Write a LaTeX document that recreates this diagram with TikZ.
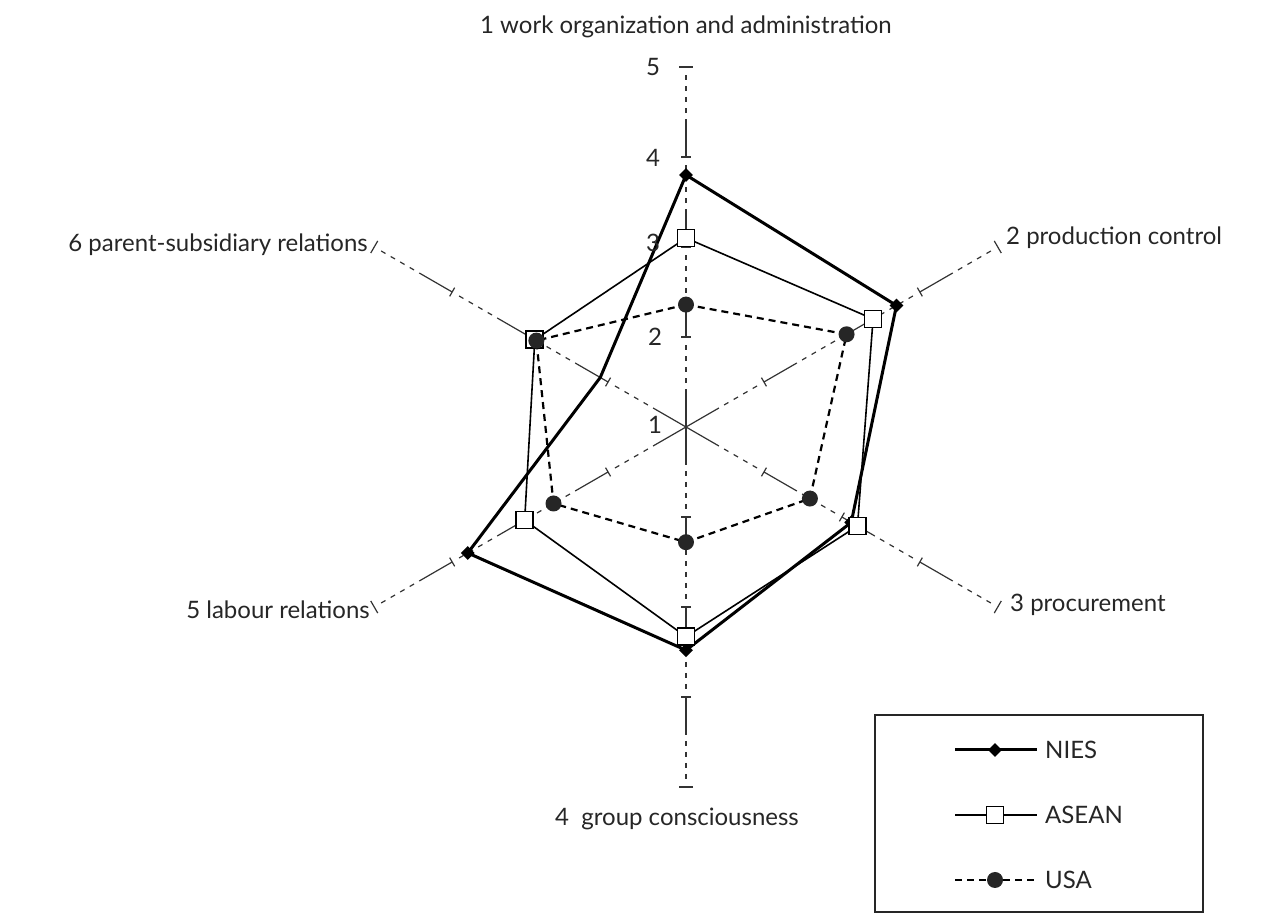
\documentclass[tikz,border=0pt]{standalone}
\usepackage{fontspec}
\setmainfont{Lato}
\usetikzlibrary{shapes.geometric}

\begin{document}
\begin{tikzpicture}[x=1pt,y=1pt,
  every node/.style={font=\fontsize{24}{28}\selectfont, text=black!85},
  axisline/.style={line width=1.2pt, black!80,
    dash pattern=on 38pt off 6pt on 5pt off 6pt on 5pt off 6pt on 5pt off 6pt on 5pt off 8pt},
  tickmark/.style={line width=1.2pt, black!80},
  niesline/.style={line width=3pt, line join=round, black},
  aseanline/.style={line width=1.6pt, line join=round, black},
  usaline/.style={line width=2.2pt, line join=round, black, dash pattern=on 7pt off 5pt},
  niesmark/.style={diamond, fill=black, inner sep=0pt, minimum size=14pt},
  aseanmark/.style={rectangle, draw=black, fill=white, line width=1.6pt, inner sep=0pt, minimum size=17pt},
  usamark/.style={circle, fill=black!85, inner sep=0pt, minimum size=16pt},
  leglabel/.style={anchor=west, inner sep=0pt}
]
\useasboundingbox (0,0) rectangle (1272,915);

\begin{scope}[shift={(686,488)}]
  \coordinate (c) at (0,0);
  % axes: one dash-dot segment per unit, ticks at 2, 3, 4 and a bar at 5
  \foreach \a/\n in {90/1,30/2,-30/3,-90/4,-150/5,150/6} {
    \coordinate (end\n) at (\a:360);
    \foreach \k in {1,2,3,4}
      \draw[axisline] (\a:{(\k-1)*90}) -- (\a:{\k*90});
    \foreach \k in {1,2,3}
      \draw[tickmark] (\a:{\k*90}) ++(\a+90:5) -- ++(\a-90:10);
    \draw[tickmark] (end\n) ++(\a+90:7) -- ++(\a-90:14);
  }

  % data points, radius = (value - 1) * 90
  \foreach \n/\a/\v in {1/90/3.8, 2/30/3.7, 3/-30/3.12, 4/-90/3.48, 5/-150/3.8, 6/150/2.1}
    \coordinate (n\n) at (\a:{(\v-1)*90});
  \foreach \n/\a/\v in {1/90/3.1, 2/30/3.4, 3/-30/3.2, 4/-90/3.33, 5/-150/3.07, 6/150/2.94}
    \coordinate (s\n) at (\a:{(\v-1)*90});
  \foreach \n/\a/\v in {1/90/2.36, 2/30/3.06, 3/-30/2.59, 4/-90/2.28, 5/-150/2.7, 6/150/2.92}
    \coordinate (u\n) at (\a:{(\v-1)*90});
\end{scope}

% profiles
\draw[usaline] (u1) -- (u2) -- (u3) -- (u4) -- (u5) -- (u6) -- cycle;
\draw[aseanline] (s1) -- (s2) -- (s3) -- (s4) -- (s5) -- (s6) -- cycle;
\draw[niesline] (n1) -- (n2) -- (n3) -- (n4) -- (n5) -- (n6) -- cycle;

% markers
\foreach \n in {1,2,3,4,5}
  \node[niesmark] (nm\n) at (n\n) {};
\foreach \n in {1,2,3,4,5,6}
  \node[aseanmark] (sm\n) at (s\n) {};
\foreach \n in {1,2,3,4,5,6}
  \node[usamark] (um\n) at (u\n) {};

% scale values on axis 1
\node (v5) at (653,848) {5};
\node (v4) at (653,757) {4};
\node (v3) at (653,672) {3};
\node (v2) at (655,578) {2};
\node (v1) at (655,490) {1};

% axis titles
\node (t1) at (686,888) {1 work organization and administration};
\node[anchor=west, inner sep=0pt] (t2) at (1006,677) {2 production control};
\node[anchor=west, inner sep=0pt] (t3) at (1010,310) {3 procurement};
\node[anchor=west, inner sep=0pt] (t4) at (555,96) {4\ \ group consciousness};
\node[anchor=east, inner sep=0pt] (t5) at (370,305) {5 labour relations};
\node[anchor=east, inner sep=0pt] (t6) at (368,670) {6 parent-subsidiary relations};

% legend
\draw[line width=1.8pt, black!85] (875,3) rectangle (1203,200);
\coordinate (la) at (955,165); \coordinate (lb) at (1037,165);
\coordinate (lc) at (955,100); \coordinate (ld) at (1037,100);
\coordinate (le) at (955,35);  \coordinate (lf) at (1037,35);
\draw[niesline] (la) -- (lb);
\draw[aseanline] (lc) -- (ld);
\draw[usaline] (le) -- (lf);
\node[niesmark] (lm1) at (995,165) {};
\node[aseanmark] (lm2) at (995,100) {};
\node[usamark] (lm3) at (995,35) {};
\node[leglabel] (l1) at (1045,165) {NIES};
\node[leglabel] (l2) at (1045,100) {ASEAN};
\node[leglabel] (l3) at (1045,35) {USA};
\end{tikzpicture}
\end{document}
